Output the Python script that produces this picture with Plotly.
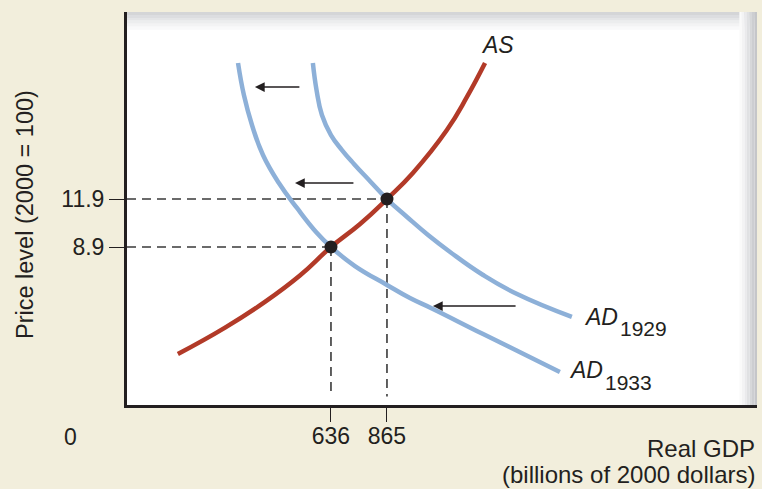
import plotly.graph_objects as go

# ---- data ----
as_x = [10, 203, 366, 509, 636, 755, 865, 971, 1110, 1192, 1266]
as_y = [2.21, 3.86, 5.47, 7.12, 8.9, 10.34, 11.9, 13.53, 16.21, 18.28, 20.4]

ad1929_x = [562, 577, 599, 636, 681, 730, 795, 865, 947, 1033, 1123, 1258, 1397, 1621]
ad1929_y = [20.4, 18.71, 17.15, 15.9, 14.96, 14.09, 13.03, 11.9, 10.78, 9.65, 8.59, 7.15, 5.96, 4.53]

ad1933_x = [256, 280, 313, 358, 423, 497, 575, 636, 734, 865, 959, 1053, 1258, 1572]
ad1933_y = [20.4, 18.4, 16.53, 14.65, 12.9, 11.34, 9.84, 8.9, 7.71, 6.53, 5.71, 5.03, 3.46, 1.09]

eq_x = [636, 865]
eq_y = [8.9, 11.9]

x_tick_vals = [636, 865]
x_tick_text = ["636", "865"]
y_tick_vals = [8.9, 11.9]
y_tick_text = ["8.9", "11.9"]

# shift arrows (tail x, head x, y)
arrow_tail_x = [513, 734, 1397]
arrow_head_x = [325, 489, 1053]
arrow_y = [18.9, 12.9, 5.21]

X_RANGE = [-198, 2378]
Y_RANGE = [-0.975, 23.59]

RED = "#B23A28"
BLUE = "#8DB0D8"
INK = "#231F20"
BEIGE = "#F2EEDC"
FONT = "Liberation Sans"

fig = go.Figure()

shapes = []
# panel shading (top and right)
top_shades = ["#d4d5d7", "#dcdde0", "#e4e5e7", "#ecedee", "#f3f3f4", "#f9f9fa"]
for i, c in enumerate(top_shades):
    y0 = 1 - i * 0.0075
    shapes.append(dict(type="rect", xref="paper", yref="paper", x0=0, x1=1,
                       y0=y0 - 0.0075, y1=y0, fillcolor=c, line=dict(width=0), layer="below"))
right_shades = ["#c5c6c9", "#cdced1", "#d6d7d9", "#e0e1e3", "#eaeaec", "#f3f3f4", "#fafafa"]
for i, c in enumerate(right_shades):
    x1 = 1 - i * 0.004
    shapes.append(dict(type="rect", xref="paper", yref="paper", x0=x1 - 0.004, x1=x1,
                       y0=0, y1=1, fillcolor=c, line=dict(width=0), layer="below"))

# dashed guides
for ex, ey in zip(eq_x, eq_y):
    shapes.append(dict(type="line", xref="x", yref="y", x0=X_RANGE[0], x1=ex, y0=ey, y1=ey,
                       line=dict(color="#3a3a3a", width=1.6, dash="9px,6px"), layer="below"))
    shapes.append(dict(type="line", xref="x", yref="y", x0=ex, x1=ex, y0=ey, y1=-0.45,
                       line=dict(color="#3a3a3a", width=1.6, dash="9px,6px"), layer="below"))

fig.add_trace(go.Scatter(x=ad1929_x, y=ad1929_y, mode="lines",
                         line=dict(color=BLUE, width=4.5, shape="spline", smoothing=1.3),
                         hoverinfo="skip", showlegend=False))
fig.add_trace(go.Scatter(x=ad1933_x, y=ad1933_y, mode="lines",
                         line=dict(color=BLUE, width=4.5, shape="spline", smoothing=1.3),
                         hoverinfo="skip", showlegend=False))
fig.add_trace(go.Scatter(x=as_x, y=as_y, mode="lines",
                         line=dict(color=RED, width=4.5, shape="spline", smoothing=1.3),
                         hoverinfo="skip", showlegend=False))
fig.add_trace(go.Scatter(x=eq_x, y=eq_y, mode="markers",
                         marker=dict(color=INK, size=13), hoverinfo="skip", showlegend=False))

annotations = []
for tx, hx, ay in zip(arrow_tail_x, arrow_head_x, arrow_y):
    annotations.append(dict(x=hx, y=ay, ax=tx, ay=ay, xref="x", yref="y", axref="x", ayref="y",
                            text="", showarrow=True, arrowhead=2, arrowsize=1.3, arrowwidth=1.5,
                            arrowcolor=INK))

lab = dict(family=FONT, size=23, color=INK)
sub = dict(family=FONT, size=21, color=INK)
annotations += [
    dict(x=1315, y=21.5, xref="x", yref="y", text="<i>AS</i>", showarrow=False,
         font=lab, xanchor="center", yanchor="middle"),
    dict(x=1663, y=4.53, xref="x", yref="y", text="<i>AD</i>", showarrow=False,
         font=lab, xanchor="left", yanchor="middle"),
    dict(x=1810, y=3.78, xref="x", yref="y", text="1929", showarrow=False,
         font=sub, xanchor="left", yanchor="middle"),
    dict(x=1601, y=1.21, xref="x", yref="y", text="<i>AD</i>", showarrow=False,
         font=lab, xanchor="left", yanchor="middle"),
    dict(x=1749, y=0.43, xref="x", yref="y", text="1933", showarrow=False,
         font=sub, xanchor="left", yanchor="middle"),
    dict(x=(70 - 127) / 630, y=-(437 - 405) / 393, xref="paper", yref="paper", text="0",
         showarrow=False, font=lab, xanchor="center", yanchor="middle"),
    dict(x=1, y=-(449 - 405) / 393, xref="paper", yref="paper", text="Real GDP",
         showarrow=False, font=dict(family=FONT, size=24, color=INK),
         xanchor="right", yanchor="middle"),
    dict(x=1, y=-(474 - 405) / 393, xref="paper", yref="paper",
         text="(billions of 2000 dollars)", showarrow=False,
         font=dict(family=FONT, size=24, color=INK), xanchor="right", yanchor="middle"),
    dict(x=(25 - 127) / 630, y=(405 - 215) / 393, xref="paper", yref="paper",
         text="Price level (2000 = 100)", textangle=-90, showarrow=False,
         font=dict(family=FONT, size=23.5, color=INK), xanchor="center", yanchor="middle"),
]

fig.update_layout(
    width=762, height=489,
    margin=dict(l=127, r=5, t=12, b=84),
    paper_bgcolor=BEIGE, plot_bgcolor="white",
    shapes=shapes, annotations=annotations,
    font=dict(family=FONT, size=23, color=INK),
    xaxis=dict(range=X_RANGE, showgrid=False, zeroline=False, showline=True,
               linecolor=INK, linewidth=3, ticks="outside", ticklen=14, tickwidth=1.3,
               tickcolor=INK, tickvals=x_tick_vals, ticktext=x_tick_text,
               ticklabelstandoff=-6,
               tickfont=dict(family=FONT, size=23, color=INK), fixedrange=True),
    yaxis=dict(range=Y_RANGE, showgrid=False, zeroline=False, showline=True,
               linecolor=INK, linewidth=3, ticks="outside", ticklen=15, tickwidth=1.3,
               tickcolor=INK, tickvals=y_tick_vals, ticktext=y_tick_text,
               tickfont=dict(family=FONT, size=23, color=INK), fixedrange=True),
)

fig.write_html("out.html", config={"displayModeBar": False},
               post_script="document.body.style.margin='0';document.body.style.overflow='hidden';")
